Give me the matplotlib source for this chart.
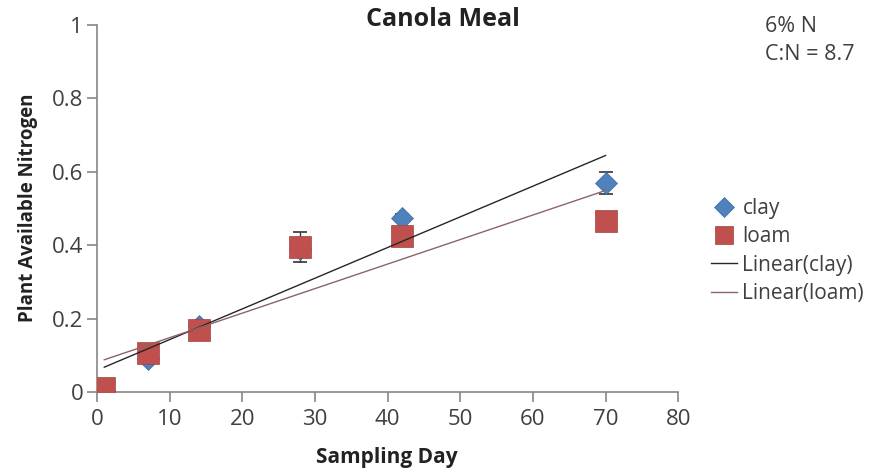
import matplotlib
matplotlib.use("Agg")
import matplotlib.pyplot as plt
import numpy as np

plt.rcParams['font.family'] = ['Open Sans', 'DejaVu Sans']

days = [1, 7, 14, 28, 42, 70]
clay = [0.005, 0.09, 0.18, 0.39, 0.475, 0.57]
clay_err = [0.005, 0.005, 0.01, 0.01, 0.01, 0.03]
loam = [0.01, 0.105, 0.17, 0.395, 0.425, 0.465]
loam_err = [0.005, 0.005, 0.01, 0.04, 0.01, 0.01]
x_ticks = [0, 10, 20, 30, 40, 50, 60, 70, 80]
y_ticks = [0, 0.2, 0.4, 0.6, 0.8, 1]
y_ticklabels = ['0', '0.2', '0.4', '0.6', '0.8', '1']

fig = plt.figure(figsize=(8.74, 4.72), dpi=100)
ax = fig.add_axes([0.111, 0.1695, 0.665, 0.7775])

blue = '#4F81BD'
red = '#C0504D'
axis_col = '#868686'
text_col = '#404040'

ax.errorbar(days, loam, yerr=loam_err, fmt='none', ecolor='#333333',
            elinewidth=1, capsize=5, capthick=1.2, zorder=2)
ax.errorbar(days, clay, yerr=clay_err, fmt='none', ecolor='#333333',
            elinewidth=1, capsize=5, capthick=1.2, zorder=2)
ax.plot(days, clay, linestyle='none', marker='D', markersize=11.5,
        color=blue, markeredgecolor='#3A6EA5', markeredgewidth=0.5, zorder=3, label='clay')
ax.plot(days, loam, linestyle='none', marker='s', markersize=16,
        color=red, markeredgecolor='#A04040', markeredgewidth=0.5, zorder=4, label='loam')

xs = np.array([min(days), max(days)])
pc = np.polyfit(days, clay, 1)
pl = np.polyfit(days, loam, 1)
ax.plot(xs, np.polyval(pc, xs), color='#262626', linewidth=1.0, zorder=5, label='Linear(clay)')
ax.plot(xs, np.polyval(pl, xs), color='#8C6464', linewidth=1.0, zorder=5, label='Linear(loam)')

ax.set_xlim(0, 80)
ax.set_ylim(0, 1)
ax.set_xticks(x_ticks)
ax.set_yticks(y_ticks)
ax.set_yticklabels(y_ticklabels)
for s in ['top', 'right']:
    ax.spines[s].set_visible(False)
for s in ['left', 'bottom']:
    ax.spines[s].set_color(axis_col)
    ax.spines[s].set_linewidth(1.2)
ax.tick_params(axis='both', colors=axis_col, labelcolor=text_col, labelsize=16,
               direction='out', length=7, width=1.2)
ax.tick_params(axis='y', pad=3)
ax.tick_params(axis='x', pad=5)

fig.text(387/874, 1 - 458/472, 'Sampling Day', fontsize=15, fontweight='bold',
         color='#222222', ha='center', va='center')
fig.text(28/874, 1 - 208/472, 'Plant Available Nitrogen', fontsize=13.5, fontweight='bold',
         color='#222222', ha='center', va='center', rotation=90)
fig.text(443/874, 1 - 20/472, 'Canola Meal', fontsize=18, fontweight='bold',
         color='#222222', ha='center', va='center')

fig.text(765/874, 1 - 27/472, '6% N', fontsize=15.5, color=text_col, va='center', ha='left')
fig.text(765/874, 1 - 55/472, 'C:N = 8.7', fontsize=15.5, color=text_col, va='center', ha='left')

leg = ax.legend(loc='upper left', bbox_to_anchor=(707/874, 1 - 194/472),
                bbox_transform=fig.transFigure, frameon=False, fontsize=15,
                handlelength=1.25, handletextpad=0.25, labelspacing=0.35, markerscale=0.85,
                borderpad=0.2, borderaxespad=0)
for t in leg.get_texts():
    t.set_color(text_col)

fig.savefig('out.png', dpi=100)
